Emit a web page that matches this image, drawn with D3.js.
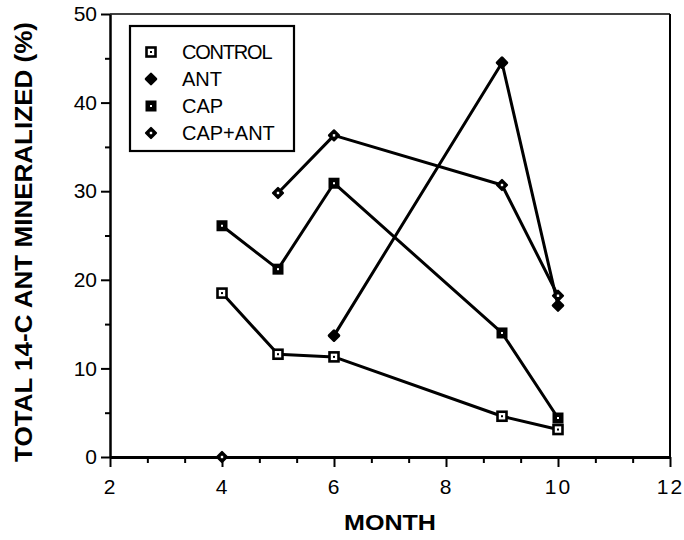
<!DOCTYPE html>
<html>
<head>
<meta charset="utf-8">
<script src="https://cdn.jsdelivr.net/npm/d3@7/dist/d3.min.js"></script>
<style>
  html, body { margin: 0; padding: 0; background: #fff; }
  svg { display: block; }
  text { font-family: "Liberation Sans", Arial, Helvetica, sans-serif; fill: #000; }
</style>
</head>
<body>
<svg id="chart" width="684" height="540"></svg>
<script>
// ---- data ----
const months   = [4, 5, 6, 9, 10];
const control  = [18.5, 11.6, 11.3, 4.6, 3.1];
const ant      = [null, null, 13.7, 44.5, 17.1];
const cap      = [26.1, 21.2, 30.9, 14.0, 4.4];
const capAnt   = [0, 29.8, 36.3, 30.7, 18.2];
const seriesNames = ["CONTROL", "ANT", "CAP", "CAP+ANT"];
const xTicks = [2, 4, 6, 8, 10, 12];
const yTicks = [0, 10, 20, 30, 40, 50];
const xMinorTicks = [2.667, 3.333, 4.667, 5.333, 6.667, 7.333, 8.667, 9.333, 10.667, 11.333];
const yMinorTicks = [5, 15, 25, 35, 45];
const xTitle = "MONTH";
const yTitle = "TOTAL 14-C ANT MINERALIZED (%)";

// ---- layout ----
const L = 110, R = 670, T = 14, B = 457;
const svg = d3.select("#chart");
const x = d3.scaleLinear().domain([2, 12]).range([L, R]);
const y = d3.scaleLinear().domain([0, 50]).range([B, T]);

// frame (top & right)
svg.append("line").attr("x1", L).attr("x2", R).attr("y1", T).attr("y2", T)
  .attr("stroke", "#000").attr("stroke-width", 1.6);
svg.append("line").attr("x1", R).attr("x2", R).attr("y1", T).attr("y2", B)
  .attr("stroke", "#000").attr("stroke-width", 2);

// minor ticks
svg.append("g").attr("transform", `translate(0,${B})`)
  .call(d3.axisBottom(x).tickValues(xMinorTicks).tickSize(6).tickFormat(""))
  .call(g => g.select(".domain").remove())
  .call(g => g.selectAll("line").attr("stroke-width", 2));
svg.append("g").attr("transform", `translate(${L},0)`)
  .call(d3.axisLeft(y).tickValues(yMinorTicks).tickSize(5).tickFormat(""))
  .call(g => g.select(".domain").remove())
  .call(g => g.selectAll("line").attr("stroke-width", 2));

// major axes
const xAxis = svg.append("g").attr("transform", `translate(0,${B})`)
  .call(d3.axisBottom(x).tickValues(xTicks).tickSize(10).tickSizeOuter(0).tickPadding(12).tickFormat(d3.format("d")));
xAxis.select(".domain").attr("stroke-width", 3);
xAxis.selectAll("line").attr("stroke-width", 2);
xAxis.selectAll("text").attr("font-size", 21).attr("letter-spacing", 2)
  .attr("font-family", "Liberation Sans, Arial, sans-serif").attr("fill", "#000");

const yAxis = svg.append("g").attr("transform", `translate(${L},0)`)
  .call(d3.axisLeft(y).tickValues(yTicks).tickSize(9).tickSizeOuter(0).tickPadding(4).tickFormat(d3.format("d")));
yAxis.select(".domain").attr("stroke-width", 2.5);
yAxis.selectAll("line").attr("stroke-width", 2);
yAxis.selectAll("text").attr("font-size", 21)
  .attr("font-family", "Liberation Sans, Arial, sans-serif").attr("fill", "#000");
svg.selectAll(".domain").attr("stroke", "#000");

// titles
svg.append("text").attr("x", (L + R) / 2).attr("y", 530)
  .attr("text-anchor", "middle").attr("font-size", 22).attr("font-weight", "bold")
  .attr("textLength", 92).attr("lengthAdjust", "spacingAndGlyphs").text(xTitle);
svg.append("text").attr("transform", "translate(32,242) rotate(-90)")
  .attr("text-anchor", "middle").attr("font-size", 23).attr("font-weight", "bold")
  .attr("textLength", 440).attr("lengthAdjust", "spacingAndGlyphs").text(yTitle);

// ---- lines ----
function pts(vals) { return months.map((m, i) => ({ m, v: vals[i] })); }
const line = d3.line()
  .defined(d => d.v !== null && d.v > 0)
  .x(d => x(d.m)).y(d => y(d.v));
const allSeries = [control, ant, cap, capAnt];
const lg = svg.append("g");
allSeries.forEach(vals => {
  lg.append("path").datum(pts(vals)).attr("d", line)
    .attr("fill", "none").attr("stroke", "#000").attr("stroke-width", 3)
    .attr("stroke-linejoin", "round");
});

// ---- markers ----
function drawMarker(g, type, cx, cy) {
  if (type === 0) { // CONTROL: open square with center dot
    g.append("rect").attr("x", cx - 4.5).attr("y", cy - 4.5).attr("width", 9).attr("height", 9)
      .attr("fill", "#fff").attr("stroke", "#000").attr("stroke-width", 2.6);
    g.append("rect").attr("x", cx - 1).attr("y", cy - 1).attr("width", 2).attr("height", 2).attr("fill", "#000");
  } else if (type === 1) { // ANT: filled rounded diamond
    g.append("path").attr("d", `M${cx},${cy - 4.8}L${cx + 4.8},${cy}L${cx},${cy + 4.8}L${cx - 4.8},${cy}Z`)
      .attr("fill", "#000").attr("stroke", "#000").attr("stroke-width", 3).attr("stroke-linejoin", "round");
  } else if (type === 2) { // CAP: filled square with white dot
    g.append("rect").attr("x", cx - 5.5).attr("y", cy - 5.5).attr("width", 11).attr("height", 11).attr("fill", "#000");
    g.append("rect").attr("x", cx - 1).attr("y", cy - 1).attr("width", 2).attr("height", 2).attr("fill", "#fff");
  } else { // CAP+ANT: diamond with white center
    g.append("path").attr("d", `M${cx},${cy - 5}L${cx + 5},${cy}L${cx},${cy + 5}L${cx - 5},${cy}Z`)
      .attr("fill", "#000").attr("stroke", "#000").attr("stroke-width", 2.2).attr("stroke-linejoin", "round");
    g.append("rect").attr("x", cx - 1.2).attr("y", cy - 1.2).attr("width", 2.4).attr("height", 2.4).attr("fill", "#fff");
  }
}
const mg = svg.append("g");
allSeries.forEach((vals, si) => {
  pts(vals).filter(d => d.v !== null).forEach(d => drawMarker(mg, si, x(d.m), y(d.v)));
});

// ---- legend ----
const leg = svg.append("g");
leg.append("rect").attr("x", 130).attr("y", 26).attr("width", 164).attr("height", 125)
  .attr("fill", "#fff").attr("stroke", "#000").attr("stroke-width", 2.2);
seriesNames.forEach((name, i) => {
  const cy = 52 + i * 27;
  drawMarker(leg, i, 151, cy);
  leg.append("text").attr("x", 182).attr("y", cy + 7).attr("font-size", 20)
    .attr("letter-spacing", name === "CONTROL" ? -1.2 : 0).text(name);
});
</script>
</body>
</html>
